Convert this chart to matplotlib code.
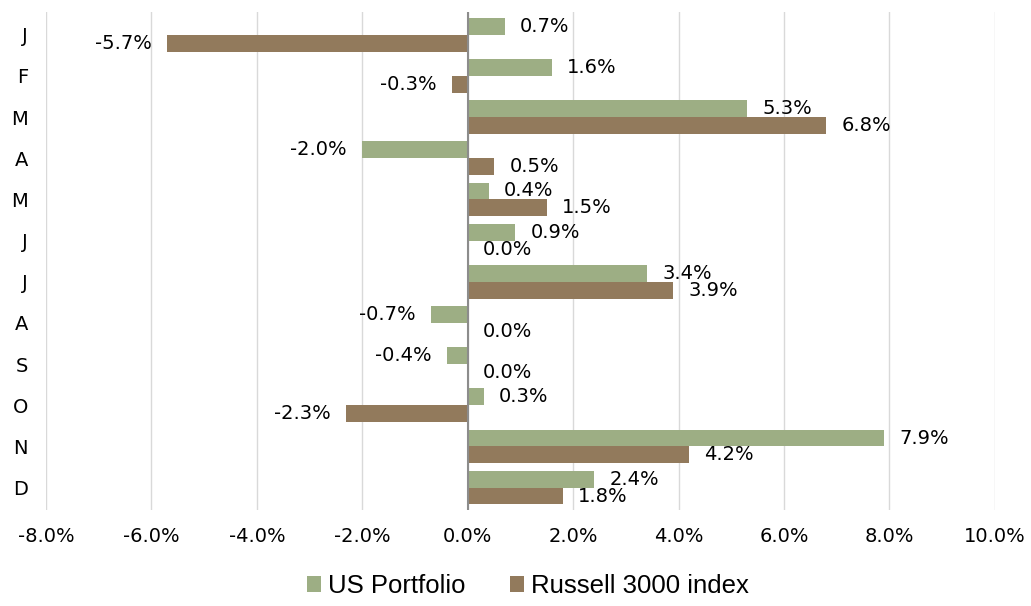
import numpy as np
import matplotlib.pyplot as plt
from matplotlib.ticker import FuncFormatter

months = ['J', 'F', 'M', 'A', 'M', 'J', 'J', 'A', 'S', 'O', 'N', 'D']
us_portfolio = [0.7, 1.6, 5.3, -2.0, 0.4, 0.9, 3.4, -0.7, -0.4, 0.3, 7.9, 2.4]
russell = [-5.7, -0.3, 6.8, 0.5, 1.5, 0.0, 3.9, 0.0, 0.0, -2.3, 4.2, 1.8]

green = '#9DAE84'
brown = '#927A5C'

fig = plt.figure(figsize=(10.31, 6.06), dpi=100)
ax = fig.add_axes([0.0446, 0.158, 0.9204, 0.822])

y = np.arange(len(months))
h = 0.41
b1 = ax.barh(y - h / 2, us_portfolio, height=h, color=green, label='US Portfolio')
b2 = ax.barh(y + h / 2, russell, height=h, color=brown, label='Russell 3000 index')

for bars, vals in [(b1, us_portfolio), (b2, russell)]:
    for bar, v in zip(bars, vals):
        yc = bar.get_y() + bar.get_height() / 2
        if v >= 0:
            ax.annotate('%.1f%%' % v, (v, yc), xytext=(11, 0), textcoords='offset points',
                        ha='left', va='center', fontsize=14)
        else:
            ax.annotate('%.1f%%' % v, (v, yc), xytext=(-11, 0), textcoords='offset points',
                        ha='right', va='center', fontsize=14)

ax.set_xlim(-8, 10)
ax.set_ylim(len(months) - 0.5 + 0.05, -0.5 - 0.05)
ax.set_xticks(np.arange(-8, 10.1, 2))
ax.xaxis.set_major_formatter(FuncFormatter(lambda x, p: '%.1f%%' % x))
ax.set_yticks(y)
ax.set_yticklabels(months)
ax.tick_params(axis='both', length=0, labelsize=14)
ax.tick_params(axis='x', pad=12)
ax.tick_params(axis='y', pad=13)
for s in ax.spines.values():
    s.set_visible(False)
ax.grid(axis='x', color='#d9d9d9', linewidth=1)
ax.set_axisbelow(True)
ax.axvline(0, color='#8c8c8c', linewidth=1.5)

fig.legend(handles=[b1, b2], loc='center', bbox_to_anchor=(0.512, 0.033), ncol=2,
           frameon=False, handlelength=0.55, handleheight=0.55, handletextpad=0.3,
           columnspacing=1.7, prop={'family': 'Liberation Sans', 'size': 18.5})

fig.savefig('out.png', dpi=100)
